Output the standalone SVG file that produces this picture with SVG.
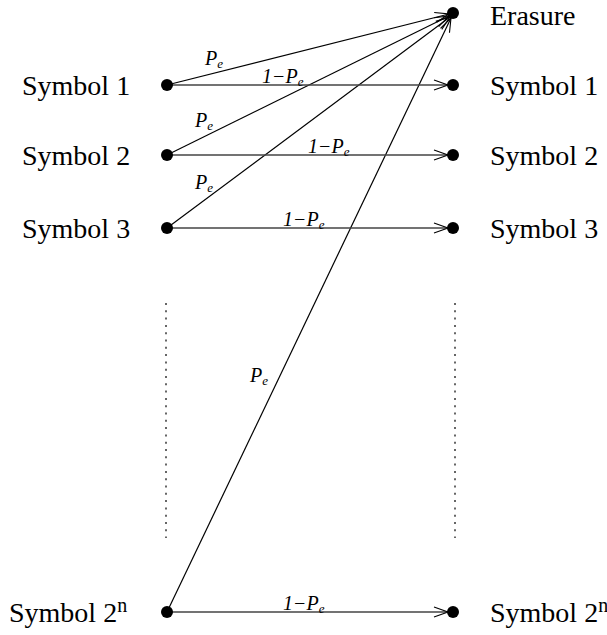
<svg xmlns="http://www.w3.org/2000/svg" width="607" height="635" viewBox="0 0 607 635">
<style>
.t{font-family:"Liberation Serif",serif;font-size:28px;fill:#000}
.l{font-family:"Liberation Serif",serif;font-size:20px;font-style:italic;fill:#000}
.s{font-size:13px}
.n{font-size:20px}
.h{stroke:#444;stroke-width:1.6;fill:none}
.d{stroke:#000;stroke-width:1.2;fill:none}
.dot{stroke:#666;stroke-width:2;stroke-dasharray:2 5.3;fill:none}
</style>
<defs>
<marker id="a" markerWidth="16" markerHeight="12" refX="15" refY="6" orient="auto" markerUnits="userSpaceOnUse">
<path d="M1,1 L15,6 L1,11" fill="none" stroke="#000" stroke-width="1.1"/>
</marker>
</defs>
<g id="connectors">
<line class="d" x1="167" y1="85" x2="449" y2="14" marker-end="url(#a)"/>
<line class="d" x1="167" y1="155" x2="449" y2="16" marker-end="url(#a)"/>
<line class="d" x1="167" y1="228" x2="450" y2="17" marker-end="url(#a)"/>
<line class="d" x1="167" y1="612" x2="451" y2="18" marker-end="url(#a)"/>
<line class="h" x1="167" y1="85" x2="448" y2="85" marker-end="url(#a)"/>
<line class="h" x1="167" y1="155" x2="448" y2="155" marker-end="url(#a)"/>
<line class="h" x1="167" y1="228" x2="448" y2="228" marker-end="url(#a)"/>
<line class="h" x1="167" y1="612" x2="448" y2="612" marker-end="url(#a)"/>
<line class="dot" x1="166" y1="303" x2="166" y2="538"/>
<line class="dot" x1="455" y1="303" x2="455" y2="538"/>
<text class="l" x="205" y="65">P<tspan class="s" dy="3">e</tspan></text>
<text class="l" x="195" y="127">P<tspan class="s" dy="3">e</tspan></text>
<text class="l" x="195" y="189">P<tspan class="s" dy="3">e</tspan></text>
<text class="l" x="250" y="382">P<tspan class="s" dy="3">e</tspan></text>
<text class="l" x="262" y="83">1−P<tspan class="s" dy="3">e</tspan></text>
<text class="l" x="308" y="153">1−P<tspan class="s" dy="3">e</tspan></text>
<text class="l" x="283" y="226">1−P<tspan class="s" dy="3">e</tspan></text>
<text class="l" x="283" y="610">1−P<tspan class="s" dy="3">e</tspan></text>
</g>
<g id="erasure"><circle cx="453" cy="13" r="6"/><text class="t" x="490" y="25">Erasure</text></g>
<g id="in1"><circle cx="167" cy="85" r="6"/><text class="t" x="22" y="95">Symbol 1</text></g>
<g id="in2"><circle cx="167" cy="155" r="6"/><text class="t" x="22" y="165">Symbol 2</text></g>
<g id="in3"><circle cx="167" cy="228" r="6"/><text class="t" x="22" y="238">Symbol 3</text></g>
<g id="inN"><circle cx="167" cy="612" r="6"/><text class="t" x="9" y="622">Symbol 2<tspan class="n" dy="-10">n</tspan></text></g>
<g id="out1"><circle cx="453" cy="85" r="6"/><text class="t" x="490" y="95">Symbol 1</text></g>
<g id="out2"><circle cx="453" cy="155" r="6"/><text class="t" x="490" y="165">Symbol 2</text></g>
<g id="out3"><circle cx="453" cy="228" r="6"/><text class="t" x="490" y="238">Symbol 3</text></g>
<g id="outN"><circle cx="453" cy="612" r="6"/><text class="t" x="490" y="622">Symbol 2<tspan class="n" dy="-10">n</tspan></text></g>
</svg>
